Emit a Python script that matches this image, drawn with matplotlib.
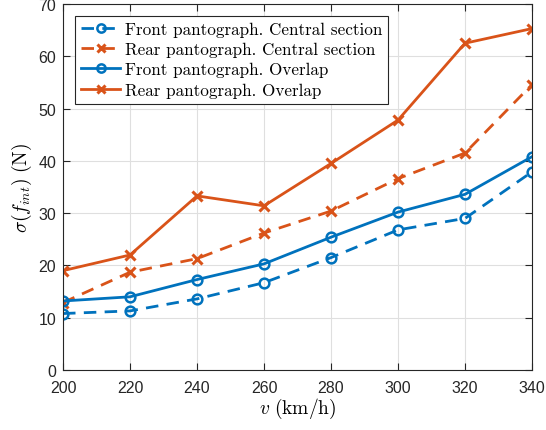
import numpy as np
import matplotlib.pyplot as plt

plt.rcParams['mathtext.fontset'] = 'cm'
plt.rcParams['font.family'] = ['Liberation Sans', 'DejaVu Sans']

v = [200, 220, 240, 260, 280, 300, 320, 340]
front_central = [10.8, 11.3, 13.6, 16.7, 21.5, 26.8, 29.0, 37.9]
rear_central = [12.9, 18.7, 21.3, 26.2, 30.4, 36.6, 41.5, 54.6]
front_overlap = [13.2, 14.0, 17.3, 20.3, 25.4, 30.2, 33.6, 40.8]
rear_overlap = [19.0, 22.0, 33.3, 31.4, 39.5, 47.8, 62.5, 65.3]

blue = '#0072BD'
orange = '#D95319'

fig = plt.figure(figsize=(5.46, 4.31), dpi=100)
ax = fig.add_axes([0.1154, 0.1392, 0.859, 0.8492])

dash = (4.5, 3)
ax.plot(v, front_central, '--o', color=blue, lw=2, ms=7, mfc='none', mew=1.8,
        dashes=dash, label='Front pantograph. Central section')
ax.plot(v, rear_central, '--x', color=orange, lw=2, ms=7, mew=2.2,
        dashes=dash, label='Rear pantograph. Central section')
ax.plot(v, front_overlap, '-o', color=blue, lw=2, ms=7, mfc='none', mew=1.8,
        label='Front pantograph. Overlap')
ax.plot(v, rear_overlap, '-x', color=orange, lw=2, ms=7, mew=2.2,
        label='Rear pantograph. Overlap')

ax.set_xlim(200, 340)
ax.set_ylim(0, 70)
ax.set_xticks(np.arange(200, 341, 20))
ax.set_yticks(np.arange(0, 71, 10))
ax.grid(True, color='#dfdfdf', lw=0.8)
ax.set_axisbelow(True)
ax.tick_params(direction='in', top=True, right=True, labelsize=11.5,
               colors='#262626', length=5)
ax.tick_params(axis='x', pad=7)
ax.tick_params(axis='y', pad=5)
for s in ax.spines.values():
    s.set_color('#262626')
    s.set_linewidth(0.8)

ax.set_xlabel(r'$v\ \mathrm{(km/h)}$', fontsize=14, labelpad=1)
ax.set_ylabel(r'$\sigma(f_{int})\ \mathrm{(N)}$', fontsize=14, labelpad=3)

leg = ax.legend(loc='upper left', prop={'family': 'cmr10', 'size': 12.3},
                fancybox=False, edgecolor='#262626', framealpha=1,
                handlelength=2.3, borderpad=0.35, labelspacing=0.28,
                handletextpad=0.25, borderaxespad=0.7, markerscale=0.85)
leg.get_frame().set_linewidth(0.8)

fig.savefig('out.png', dpi=100)
